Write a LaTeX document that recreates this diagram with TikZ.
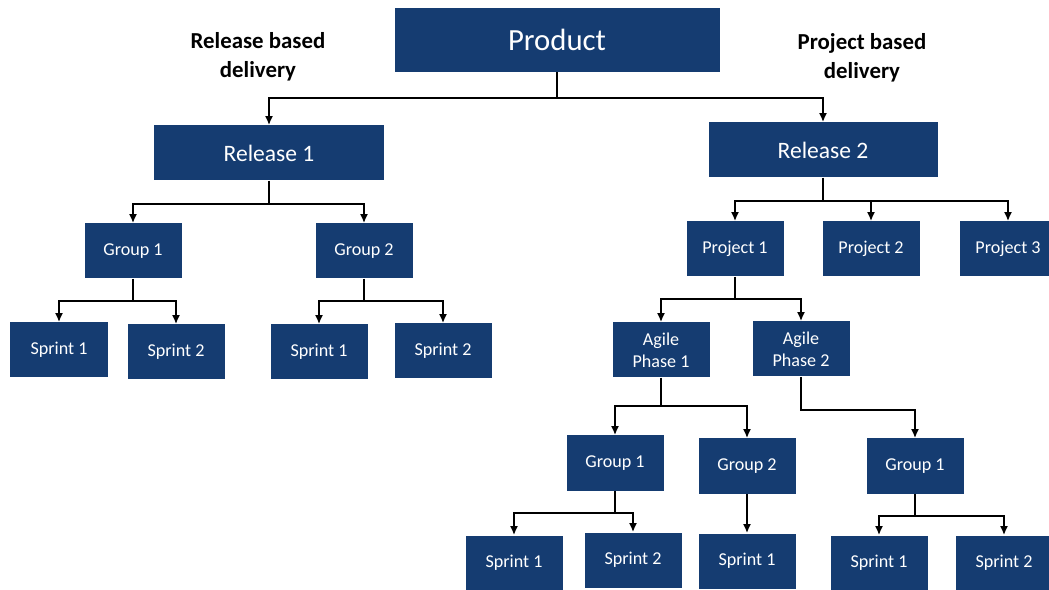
\documentclass[tikz,border=0pt]{standalone}
\usepackage{fontspec}
\setmainfont{Carlito}
\usetikzlibrary{arrows.meta}
\definecolor{navy}{RGB}{21,60,113}

\begin{document}
\begin{tikzpicture}[
  x=0.2mm, y=-0.2mm,
  box/.style={fill=navy, text=white, minimum width=19.4mm, minimum height=11mm,
    inner sep=1pt, align=center, font=\fontsize{10.3}{12.5}\selectfont},
  bigbox/.style={box, minimum width=45.8mm, font=\fontsize{13.4}{16}\selectfont},
  topbox/.style={box, minimum width=65mm, minimum height=12.8mm, font=\fontsize{17.5}{20}\selectfont},
  note/.style={align=center, font=\fontsize{13}{16.4}\selectfont\bfseries},
  arr/.style={-{Latex[length=1.8mm,width=1.6mm]}, line width=1.1pt}
]
  \useasboundingbox (0,0) rectangle (1049,590);

  % top level
  \node[topbox] (prod) at (557,40) {Product};
  \node[note] (relnote) at (258,57) {Release based\\delivery};
  \node[note] (projnote) at (862,58) {Project based\\delivery};

  \node[bigbox] (rel1) at (269,153) {Release 1};
  \node[bigbox] (rel2) at (823,150) {Release 2};

  % release based side
  \node[box] (g1) at (133,251) {Group 1};
  \node[box] (g2) at (364,251) {Group 2};
  \node[box] (s11) at (59,350) {Sprint 1};
  \node[box] (s12) at (176,352) {Sprint 2};
  \node[box] (s21) at (319,352) {Sprint 1};
  \node[box] (s22) at (443,351) {Sprint 2};

  % project based side
  \node[box] (p1) at (735,249) {Project 1};
  \node[box] (p2) at (871,249) {Project 2};
  \node[box] (p3) at (1008,249) {Project 3};
  \node[box] (a1) at (661,350) {Agile\\Phase 1};
  \node[box] (a2) at (801,349) {Agile\\Phase 2};
  \node[box] (ag1) at (615,463) {Group 1};
  \node[box] (ag2) at (747,466) {Group 2};
  \node[box] (bg1) at (915,466) {Group 1};
  \node[box] (as1) at (514,563) {Sprint 1};
  \node[box] (as2) at (633,560) {Sprint 2};
  \node[box] (as3) at (747,561) {Sprint 1};
  \node[box] (bs1) at (879,563) {Sprint 1};
  \node[box] (bs2) at (1004,563) {Sprint 2};

  % connectors
  \draw[arr] (prod.south) -- ++(0,26) -| (rel1.north);
  \draw[arr] (prod.south) -- ++(0,26) -| (rel2.north);
  \draw[arr] (rel1.south) -- ++(0,23) -| (g1.north);
  \draw[arr] (rel1.south) -- ++(0,23) -| (g2.north);
  \draw[arr] (g1.south) -- ++(0,22) -| (s11.north);
  \draw[arr] (g1.south) -- ++(0,22) -| (s12.north);
  \draw[arr] (g2.south) -- ++(0,22) -| (s21.north);
  \draw[arr] (g2.south) -- ++(0,22) -| (s22.north);
  \draw[arr] (rel2.south) -- ++(0,23) -| (p1.north);
  \draw[arr] (rel2.south) -- ++(0,23) -| (p2.north);
  \draw[arr] (rel2.south) -- ++(0,23) -| (p3.north);
  \draw[arr] (p1.south) -- ++(0,22) -| (a1.north);
  \draw[arr] (p1.south) -- ++(0,22) -| (a2.north);
  \draw[arr] (a1.south) -- ++(0,28) -| (ag1.north);
  \draw[arr] (a1.south) -- ++(0,28) -| (ag2.north);
  \draw[arr] (a2.south) -- ++(0,33) -| (bg1.north);
  \draw[arr] (ag1.south) -- ++(0,22) -| (as1.north);
  \draw[arr] (ag1.south) -- ++(0,22) -| (as2.north);
  \draw[arr] (ag2.south) -- (as3.north);
  \draw[arr] (bg1.south) -- ++(0,22) -| (bs1.north);
  \draw[arr] (bg1.south) -- ++(0,22) -| (bs2.north);
\end{tikzpicture}
\end{document}
